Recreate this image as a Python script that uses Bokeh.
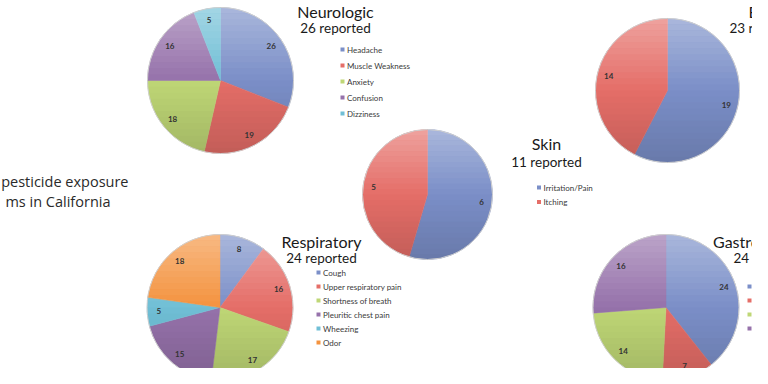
import numpy as np
from bokeh.plotting import figure
from bokeh.models import Range1d, ColumnDataSource
from bokeh.core.properties import value
from bokeh.embed import file_html
from bokeh.resources import INLINE

# ---------------- data ----------------
neuro_labels = ["Headache", "Muscle Weakness", "Anxiety", "Confusion", "Dizziness"]
neuro_values = [26, 19, 18, 16, 5]
neuro_title = ["Neurologic", "26 reported"]

skin_labels = ["Irritation/Pain", "Itching"]
skin_values = [6, 5]
skin_title = ["Skin", "11 reported"]

resp_labels = ["Cough", "Upper respiratory pain", "Shortness of breath",
               "Pleuritic chest pain", "Wheezing", "Odor"]
resp_values = [8, 16, 17, 15, 5, 18]
resp_title = ["Respiratory", "24 reported"]

eye_values = [19, 14]
eye_title = ["Eyes", "23 reported"]

gi_values = [24, 7, 14, 16]
gi_title = ["Gastrointestinal", "24 reported"]

main_title = ["pesticide exposure", "ms in California"]

palette = ["#7b8fc8", "#e56e68", "#bfd776", "#9672ab", "#70bfd6", "#f4933f"]

# ---------------- layout (picture pixel coords, y measured from top) ----------------
H = 384
p = figure(width=752, height=368, output_backend="svg", toolbar_location=None,
           x_range=Range1d(0, 752), y_range=Range1d(H - 368, H),
           min_border=0, outline_line_color=None)
p.axis.visible = False
p.grid.visible = False
p.background_fill_color = "white"

TITLE_FONT = value("Lato")
SMALL_FONT = value("Lato")


def Y(y):
    return H - y


def draw_pie(cx, cy, r, values):
    vals = np.array(values, dtype=float)
    frac = vals / vals.sum()
    cum = np.concatenate([[0], np.cumsum(frac)])
    start = np.pi / 2 - cum[:-1] * 2 * np.pi
    end = np.pi / 2 - cum[1:] * 2 * np.pi
    n = len(vals)
    src = ColumnDataSource(dict(
        x=[cx] * n, y=[Y(cy)] * n, start=start, end=end,
        color=palette[:n]))
    p.wedge(x="x", y="y", radius=r, start_angle="start", end_angle="end",
            direction="clock", fill_color="color", line_color="color",
            line_width=0.5, source=src)
    # vertical shading (lighter top, darker bottom)
    N = 24
    xs, ys, cols, alphas = [], [], [], []
    for k in range(N):
        ya = r - 2 * r * k / N
        yb = r - 2 * r * (k + 1) / N
        ta = np.arcsin(np.clip(ya / r, -1, 1))
        tb = np.arcsin(np.clip(yb / r, -1, 1))
        th = np.linspace(ta, tb, 8)
        rx = r * np.cos(th)
        ry = r * np.sin(th)
        px = np.concatenate([rx, -rx[::-1]]) + cx
        py = np.concatenate([ry, ry[::-1]]) + Y(cy)
        t = (k + 0.5) / N
        if t < 0.5:
            cols.append("white")
            alphas.append(0.36 * (1 - 2 * t))
        else:
            cols.append("black")
            alphas.append(0.15 * (2 * t - 1))
        xs.append(list(px))
        ys.append(list(py))
    p.patches(xs=xs, ys=ys, fill_color=cols, fill_alpha=alphas, line_color=None)
    p.circle(x=[cx], y=[Y(cy)], radius=r, fill_color=None,
             line_color="#cfcfcf", line_width=1)
    # value labels
    mid = (start + end) / 2
    lx = cx + 0.84 * r * np.cos(mid)
    ly = Y(cy) + 0.84 * r * np.sin(mid)
    p.text(x=list(lx), y=list(ly), text=[str(int(v)) for v in values],
           text_font=SMALL_FONT, text_font_size="8px", text_font_style="bold",
           text_color="#333333", text_align="center", text_baseline="middle")


def draw_title(x, y1, y2, lines, align="center"):
    p.text(x=[x], y=[Y(y1)], text=[lines[0]], text_font=TITLE_FONT,
           text_font_size="16px", text_color="#1a1a1a", text_align=align,
           text_baseline="middle")
    p.text(x=[x], y=[Y(y2)], text=[lines[1]], text_font=TITLE_FONT,
           text_font_size="13.5px", text_color="#1a1a1a", text_align=align,
           text_baseline="middle")


def draw_legend(x, y0, dy, labels, n=None):
    n = len(labels) if labels is not None else n
    ys = [Y(y0 + i * dy) for i in range(n)]
    p.rect(x=[x] * n, y=ys, width=4, height=4, fill_color=palette[:n],
           line_color=None)
    if labels is not None:
        p.text(x=[x + 4.5] * n, y=ys, text=labels, text_font=SMALL_FONT,
               text_font_size="8px", text_color="#3a3a3a",
               text_baseline="middle")


# Neurologic
draw_pie(220, 80, 73, neuro_values)
draw_title(335, 11, 27, neuro_title)
draw_legend(342, 49, 16, neuro_labels)

# Skin
draw_pie(427, 194, 65, skin_values)
draw_title(546, 143, 161, skin_title)
draw_legend(538.5, 187, 14.5, skin_labels)

# Respiratory
draw_pie(219.5, 307, 73, resp_values)
draw_title(321, 241, 257, resp_title)
draw_legend(318, 272, 14, resp_labels)

# Eyes (cut by the right edge, as in the reference)
draw_pie(667, 90, 72, eye_values)
p.text(x=[748], y=[Y(11)], text=[eye_title[0]], text_font=TITLE_FONT,
       text_font_size="16px", text_color="#1a1a1a", text_baseline="middle")
p.text(x=[729], y=[Y(27)], text=[eye_title[1]], text_font=TITLE_FONT,
       text_font_size="13.5px", text_color="#1a1a1a", text_baseline="middle")

# Gastrointestinal (cut by the right edge, as in the reference)
draw_pie(665.5, 307, 73, gi_values)
p.text(x=[712.5], y=[Y(241)], text=[gi_title[0]], text_font=TITLE_FONT,
       text_font_size="16px", text_color="#1a1a1a", text_baseline="middle")
p.text(x=[733], y=[Y(257)], text=[gi_title[1]], text_font=TITLE_FONT,
       text_font_size="13.5px", text_color="#1a1a1a", text_baseline="middle")
draw_legend(749, 286, 14, None, n=len(gi_values))

# Main title fragment on the left
p.text(x=[128, 110], y=[Y(181), Y(201)], text=main_title,
       text_font=value("Open Sans"), text_font_size="14.5px",
       text_color="#2a2a2a", text_align="right", text_baseline="middle")

open("out.html", "w").write(file_html(p, INLINE))
